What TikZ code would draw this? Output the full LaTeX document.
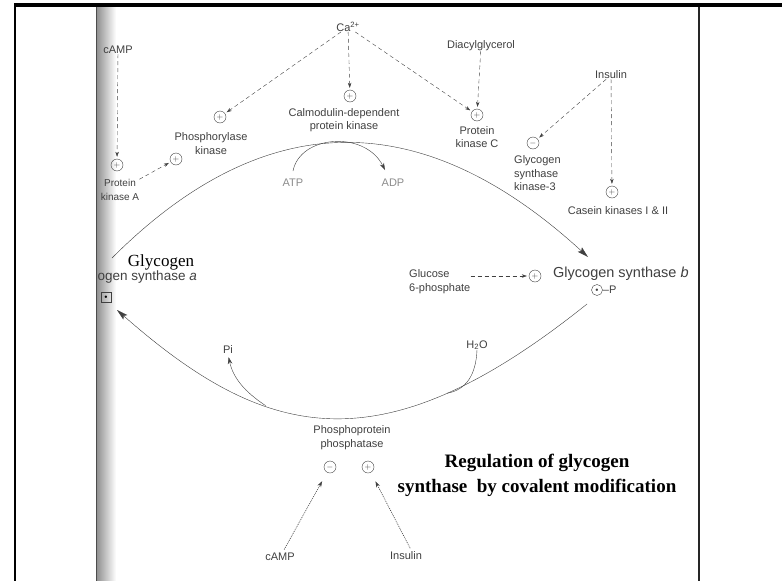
\documentclass[tikz,border=0pt]{standalone}
\usepackage{fontspec}
\setmainfont{Liberation Serif}
\setsansfont{Liberation Sans}
\usetikzlibrary{positioning,arrows.meta}
\definecolor{ink}{HTML}{404040}
\definecolor{faint}{HTML}{8C8C8C}

\begin{document}
\begin{tikzpicture}[x=1pt,y=-1pt,
  lbl/.style={font=\sffamily\fontsize{11}{13.5}\selectfont,text=ink,align=center,inner sep=0pt},
  sgn/.style={circle,draw=ink,thin,inner sep=0pt,minimum size=12pt,font=\fontsize{8}{8}\selectfont,text=ink},
  dsh/.style={draw=ink,dash pattern=on 4pt off 3pt,shorten >=2pt,-{Stealth[length=5pt,width=3.5pt]}},
  dotarr/.style={draw=ink,semithick,dash pattern=on 1pt off 1pt,shorten >=10pt,shorten <=4pt,-{Stealth[length=6pt,width=4pt]}},
  cyc/.style={draw=ink,thin,-{Stealth[length=11pt,width=6pt,inset=2pt]}},
  small/.style={draw=ink,thin,-{Stealth[length=7pt,width=4.5pt]}}]
\useasboundingbox (0,0) rectangle (782,581);
\fill[white] (0,0) rectangle (782,581);
\shade[left color=black!45,right color=white] (96,7) rectangle (116,581);
\draw[black!70,thick] (96,7) -- (96,581);
\draw[line width=1.8pt] (15,4) -- (15,581);
\draw[line width=1.5pt,black!85] (699,6) -- (699,581);
\draw[line width=3.5pt] (14,5) -- (782,5);

\node[lbl] (ca) at (348,27) {Ca\textsuperscript{2+}};
\node[lbl] (camp) at (118,50) {cAMP};
\node[lbl] (dag) at (481,46) {Diacylglycerol};
\node[lbl] (ins) at (611,75) {Insulin};

\node[sgn] (cam) at (350,96) {$+$};
\node[lbl] (caml) at (344,120) {Calmodulin-dependent\\protein kinase};
\node[sgn] (phk) at (220,117) {$+$};
\node[lbl] (phkl) at (211,143.5) {Phosphorylase\\kinase};
\node[sgn] (phka) at (176,159) {$+$};
\node[sgn] (pka) at (117,165) {$+$};
\node[lbl,font=\sffamily\fontsize{10}{14}\selectfont] (pkal) at (120,190) {Protein\\kinase A};
\node[sgn] (pkc) at (477,115) {$+$};
\node[lbl] (pkcl) at (477,137) {Protein\\kinase C};
\node[sgn] (gsk) at (533,143) {$-$};
\node[lbl,anchor=west,align=left] (gskl) at (514,173.5) {Glycogen\\synthase\\kinase-3};
\node[sgn] (ck) at (612,192) {$+$};
\node[lbl] (ckl) at (618,211) {Casein kinases I \& II};

\draw[dsh] (ca) -- (phk);
\draw[dsh] (ca) -- (cam);
\draw[dsh] (ca) -- (pkc);
\draw[dsh] (dag) -- (pkc);
\draw[dsh] (ins) -- (gsk);
\draw[dsh] (ins) -- (ck);
\draw[dsh] (camp) -- (pka);
\draw[dsh] (pkal) -- (phka);

\node[font=\fontsize{17}{17}\selectfont] (gly) at (161,262) {Glycogen};
\begin{scope}
\clip (96,0) rectangle (782,581);
\node[lbl,font=\sffamily\fontsize{13.5}{16}\selectfont,anchor=east] (gsa) at (197,277) {ogen synthase \textit{a}};
\end{scope}
\node[draw=ink,minimum size=10pt,inner sep=0pt] (gsab) at (106,297) {\fontsize{5}{5}\selectfont$\bullet$};

\node[sgn] (g6pc) at (535,276) {$+$};
\node[lbl,font=\sffamily\fontsize{14.5}{16}\selectfont,anchor=west] (gsb) at (553,274) {Glycogen synthase \textit{b}};
\node[sgn,minimum size=11pt] (pho) at (597,290) {\fontsize{5}{5}\selectfont$\bullet$};
\node[lbl,right=0pt of pho] (phol) {--P};
\node[lbl,anchor=west,align=left] (g6p) at (409,281.5) {Glucose\\6-phosphate};
\draw[dsh] (g6p.east |- g6pc) -- (g6pc);

\coordinate (a1) at (112,258);
\coordinate (b1) at (588,257);
\draw[cyc] (a1) .. controls (265,105) and (422,105) .. (b1);
\node[lbl,text=faint] (atp) at (293,183) {ATP};
\node[lbl,text=faint] (adp) at (393,183) {ADP};
\draw[small] ([yshift=8pt]atp.north) .. controls (300,135) and (365,130) .. ([xshift=-8pt,yshift=9pt]adp.north);

\coordinate (b2) at (587,304);
\coordinate (a2) at (117,310);
\draw[cyc] (b2) .. controls (380,470) and (265,440) .. (a2)
  coordinate[pos=0.65] (j1) coordinate[pos=0.25] (j2);
\node[lbl] (pi) at (228,350) {Pi};
\node[lbl] (h2o) at (477,345) {H\textsubscript{2}O};
\draw[small,shorten >=3pt] (j1) .. controls (245,392) and (233,378) .. (pi.south);
\draw[draw=ink,thin] (h2o.south) .. controls (476,375) and (466,390) .. (j2);

\node[lbl] (ppl) at (352,437.5) {Phosphoprotein\\phosphatase};
\node[sgn] (ppm) at (330,467) {$-$};
\node[sgn] (ppp) at (368,467) {$+$};
\node[lbl] (camp2) at (280,557) {cAMP};
\node[lbl] (ins2) at (406,556) {Insulin};
\draw[dotarr] (camp2) -- (ppm);
\draw[dotarr] ([xshift=6pt]ins2.north) -- (ppp);

\node[font=\bfseries\fontsize{19}{25}\selectfont,align=center] (cap) at (537,475.5) {Regulation\ of\ glycogen\\synthase\ \ by\ covalent\ modification};
\end{tikzpicture}
\end{document}
